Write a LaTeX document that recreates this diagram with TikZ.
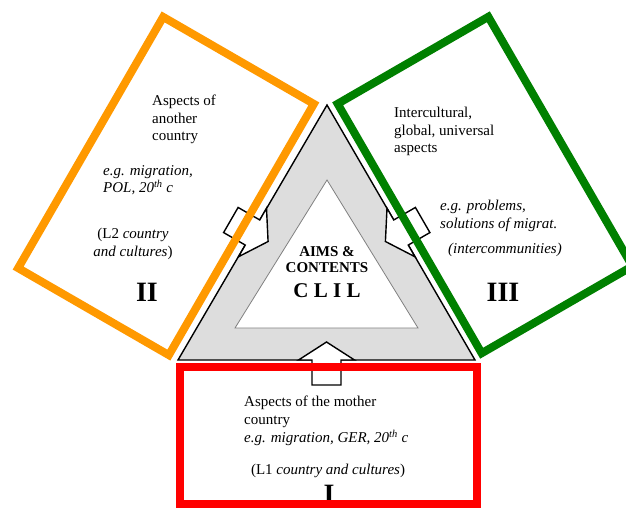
\documentclass[tikz,border=0pt]{standalone}
\usepackage{fontspec}
\setmainfont{Liberation Serif}
\usetikzlibrary{calc}
\definecolor{boxorange}{RGB}{255,153,0}
\definecolor{boxgreen}{RGB}{0,128,0}
\definecolor{boxred}{RGB}{255,0,0}
\definecolor{trigray}{RGB}{221,221,221}
\begin{document}
\begin{tikzpicture}[x=1pt, y=-1pt,
  frame/.style = {draw, line width=8pt, inner sep=0pt},
  arrowbox/.style = {draw, fill=white, line width=1.4pt, line join=miter},
  txt/.style = {inner sep=0pt, align=left, anchor=north west, font=\fontsize{15}{17.5}\selectfont},
  num/.style = {inner sep=0pt, anchor=base, font=\fontsize{28}{30}\selectfont\bfseries}]
  \fill[white] (0,0) rectangle (626,507);
  \useasboundingbox (0,0) rectangle (626,507);
  % triangle
  \coordinate (bl) at (178,360);
  \coordinate (br) at (475,360);
  \coordinate (top) at (327,105);
  \coordinate (ibl) at (235,328);
  \coordinate (ibr) at (418,328);
  \coordinate (itop) at (327,180);
  \draw[fill=trigray, line width=1.4pt] (bl) -- (br) -- (top) -- cycle;
  \draw[fill=white, draw=gray, line width=0.8pt] (ibl) -- (ibr) -- (itop) -- cycle;
  % arrows into the triangle
  \coordinate (m1) at ($(bl)!0.5!(br)$);
  \coordinate (m2) at ($(bl)!0.5!(top)$);
  \coordinate (m3) at ($(br)!0.5!(top)$);
  \foreach \m/\a in {m1/90, m2/-30, m3/210}
    \draw[arrowbox, shift={(\m)}, rotate=\a] (-25,-14.5) -- (0,-14.5) -- (0,-28) -- (18,0) -- (0,28) -- (0,14.5) -- (-25,14.5) -- cycle;
  % texts
  \node[txt] (asp2) at (152,95) {Aspects of\\another\\country};
  \node[txt, font=\fontsize{15}{17.5}\selectfont\itshape] (eg2) at (103,165) {e.g. migration,\\POL, 20\textsuperscript{th} c};
  \node[txt, anchor=north, align=center] (lang2) at (133,228) {(L2 \textit{country}\\\textit{and cultures})};
  \node[num] (n2) at (147,301) {II};
  \node[txt] (asp3) at (394,107) {Intercultural,\\global, universal\\aspects};
  \node[txt, font=\fontsize{15}{17.5}\selectfont\itshape] (eg3) at (440,200) {e.g. problems,\\solutions of migrat.};
  \node[txt, font=\fontsize{15}{17.5}\selectfont\itshape] (int3) at (448,243) {(intercommunities)};
  \node[num] (n3) at (503,301) {III};
  \node[txt, anchor=north, align=center, font=\fontsize{15}{16}\selectfont\bfseries] (aims) at (327,246) {AIMS \&\\CONTENTS};
  \node[num, font=\fontsize{21}{21}\selectfont\bfseries] (clil) at (327,297) {C L I L};
  \node[txt, font=\fontsize{15}{18}\selectfont] (asp1) at (244,396) {Aspects of the mother\\country\\\textit{e.g. migration, GER, 20\textsuperscript{th} c}};
  \node[txt, anchor=base] (lang1) at (328,474) {(L1 \textit{country and cultures})};
  \node[num] (n1) at (329,503.5) {I};
  % frames
  \node[frame, draw=boxorange, rotate=-30, minimum width=174pt, minimum height=290pt] (box2) at (166,186) {};
  \node[frame, draw=boxgreen, rotate=30, minimum width=174pt, minimum height=288pt] (box3) at (485,185) {};
  \node[frame, draw=boxred, minimum width=297pt, minimum height=137pt] (box1) at (328.5,435.5) {};
\end{tikzpicture}
\end{document}
